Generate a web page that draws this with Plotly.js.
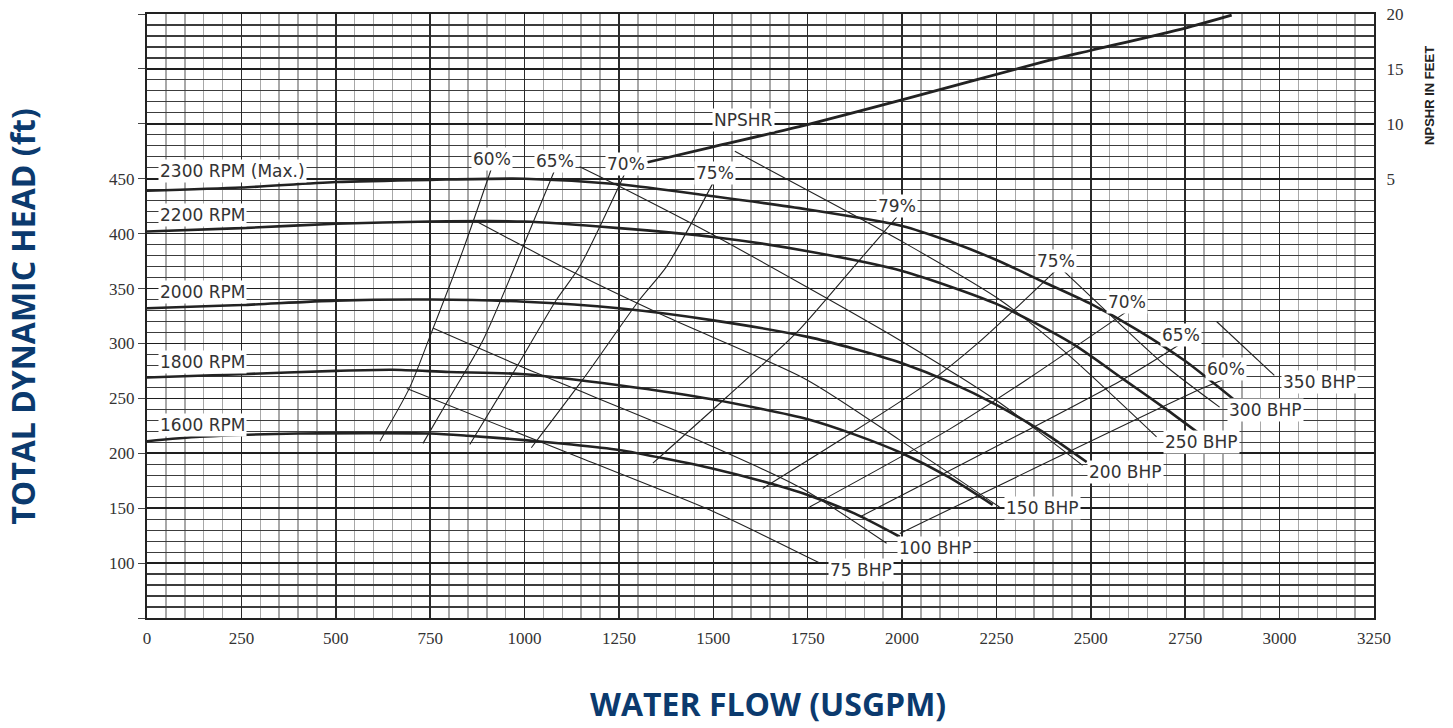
<!DOCTYPE html>
<html>
<head>
<meta charset="utf-8">
<script src="https://cdn.plot.ly/plotly-3.0.1.min.js"></script>
<style>
html,body{margin:0;padding:0;background:#fff;}
#chart{width:1453px;height:728px;}
</style>
</head>
<body>
<div id="chart"></div>
<script>
// ---- Head-capacity curves (flow USGPM, head ft) ----
const rpmNames = ["2300 RPM (Max.)", "2200 RPM", "2000 RPM", "1800 RPM", "1600 RPM"];
const flow2300 = [0, 250, 500, 750, 1000, 1250, 1500, 1750, 2000, 2125, 2250, 2375, 2500, 2625, 2750, 2886];
const head2300 = [439, 442, 447, 449, 450, 445, 434, 422, 407, 393, 376, 356, 336, 312, 284, 247];
const flow2200 = [0, 250, 500, 750, 1000, 1250, 1500, 1750, 2000, 2250, 2450, 2584, 2700, 2783];
const head2200 = [402, 405, 409, 411, 411, 405, 397, 384, 366, 336, 300, 268, 240, 219];
const flow2000 = [0, 250, 500, 750, 1000, 1250, 1500, 1750, 1875, 2000, 2125, 2250, 2375, 2489];
const head2000 = [332, 335, 339, 340, 338, 332, 321, 306, 295, 282, 265, 244, 219, 192];
const flow1800 = [0, 250, 500, 650, 800, 1000, 1250, 1500, 1750, 1875, 2000, 2125, 2240];
const head1800 = [269, 272, 275, 276, 274, 272, 262, 249, 231, 217, 200, 178, 153];
const flow1600 = [0, 140, 400, 750, 850, 1000, 1125, 1250, 1375, 1500, 1625, 1750, 1875, 1994];
const head1600 = [211, 215, 218, 218, 216, 212, 208, 203, 195, 186, 175, 162, 145, 124];

// ---- Efficiency lines ----
const effNames = ["60%", "65%", "70%", "75%", "79%", "75%", "70%", "65%", "60%"];
const effFlow60 = [617, 696, 749, 837, 913];
const effHead60 = [211, 260, 306, 385, 460];
const effFlow65 = [731, 802, 890, 996, 1080];
const effHead65 = [209, 251, 303, 388, 458];
const effFlow70 = [855, 980, 1085, 1146, 1266];
const effHead70 = [208, 279, 340, 370, 455];
const effFlow75 = [1018, 1154, 1305, 1376, 1499];
const effHead75 = [205, 267, 340, 370, 446];
const effFlow79 = [1340, 1535, 1721, 1880, 1986];
const effHead79 = [191, 251, 310, 373, 415];
const effFlow75r = [1631, 1850, 2073, 2200, 2409];
const effHead75r = [168, 215, 265, 300, 367];
const effFlow70r = [1755, 2126, 2330, 2595];
const effHead70r = [151, 222, 267, 329];
const effFlow65r = [1888, 2584, 2735];
const effHead65r = [142, 267, 299];
const effFlow60r = [1994, 2788, 2859];
const effHead60r = [127, 258, 268];

// ---- Brake horsepower lines ----
const bhpNames = ["75 BHP", "100 BHP", "150 BHP", "200 BHP", "250 BHP", "300 BHP", "350 BHP"];
const bhpFlow75 = [688, 1154, 1500, 1782];
const bhpHead75 = [259, 195, 147, 100];
const bhpFlow100 = [757, 1032, 1419, 1729, 1959];
const bhpHead100 = [314, 273, 218, 169, 118];
const bhpFlow150 = [873, 1128, 1377, 1747, 1994, 2258];
const bhpHead150 = [411, 365, 324, 267, 212, 151];
const bhpFlow200 = [1146, 1252, 1499, 1994, 2250, 2478];
const bhpHead200 = [461, 443, 399, 303, 248, 189];
const bhpFlow250 = [1557, 1888, 1994, 2258, 2436, 2674];
const bhpHead250 = [475, 414, 394, 340, 291, 215];
const bhpFlow300 = [2425, 2542, 2700, 2841];
const bhpHead300 = [367, 329, 279, 242];
const bhpFlow350 = [2833, 2986];
const bhpHead350 = [320, 271];

// ---- NPSHR curve (flow, ft) ----
const npshFlow = [1326, 1499, 1747, 2002, 2391, 2502, 2748, 2873];
const npshFeet = [6.5, 7.9, 9.9, 12.2, 15.8, 16.7, 18.7, 19.9];

// ---- Axis ticks ----
const flowTicks = [0, 250, 500, 750, 1000, 1250, 1500, 1750, 2000, 2250, 2500, 2750, 3000, 3250];
const headTickVals = [50, 100, 150, 200, 250, 300, 350, 400, 450, 500, 550, 600];
const headTickText = ["", "100", "150", "200", "250", "300", "350", "400", "450", "", "", ""];
const npshTicks = [5, 10, 15, 20];

// ---- Label anchor positions (data coords) ----
const rpmLabelFlow = [30, 30, 30, 30, 30];
const rpmLabelHead = [457, 417, 347, 283, 226];
const effLabelFlow = [913, 1080, 1268, 1504, 1986, 2409, 2595, 2738, 2859];
const effLabelHead = [468, 466, 463, 455, 425, 375, 338, 308, 277];
const bhpLabelFlow = [1890, 2089, 2372, 2593, 2794, 2962, 3106];
const bhpLabelHead = [94, 114, 150, 183, 210, 239, 265];
const npshLabelFlow = 1579;
const npshLabelHead = 503.5;

const ink = '#222';
function line(x, y, w, axis) {
  return {x: x, y: y, type: 'scatter', mode: 'lines', yaxis: axis || 'y',
    line: {color: ink, width: w, shape: 'spline', smoothing: 0.7},
    hoverinfo: 'skip', showlegend: false};
}

const traces = [
  line(effFlow60, effHead60, 1.1), line(effFlow65, effHead65, 1.1), line(effFlow70, effHead70, 1.1),
  line(effFlow75, effHead75, 1.1), line(effFlow79, effHead79, 1.1), line(effFlow75r, effHead75r, 1.1),
  line(effFlow70r, effHead70r, 1.1), line(effFlow65r, effHead65r, 1.1), line(effFlow60r, effHead60r, 1.1),
  line(bhpFlow75, bhpHead75, 1.1), line(bhpFlow100, bhpHead100, 1.1), line(bhpFlow150, bhpHead150, 1.1),
  line(bhpFlow200, bhpHead200, 1.1), line(bhpFlow250, bhpHead250, 1.1), line(bhpFlow300, bhpHead300, 1.1),
  line(bhpFlow350, bhpHead350, 1.1),
  line(flow2300, head2300, 2.6), line(flow2200, head2200, 2.6), line(flow2000, head2000, 2.6),
  line(flow1800, head1800, 2.6), line(flow1600, head1600, 2.6),
  line(npshFlow, npshFeet, 2.8, 'y2')
];

const labelFont = {family: 'DejaVu Sans, Arial, sans-serif', size: 17, color: '#333'};
const annotations = [];
function lab(text, x, y, anchor) {
  annotations.push({text: text, x: x, y: y, xref: 'x', yref: 'y', showarrow: false,
    xanchor: anchor || 'center', yanchor: 'middle', bgcolor: '#ffffff', borderpad: 1, font: labelFont});
}
rpmNames.forEach((t, i) => lab(t, rpmLabelFlow[i], rpmLabelHead[i], 'left'));
effNames.forEach((t, i) => lab(t, effLabelFlow[i], effLabelHead[i]));
bhpNames.forEach((t, i) => lab(t, bhpLabelFlow[i], bhpLabelHead[i]));
lab('NPSHR', npshLabelFlow, npshLabelHead);

const titleColor = '#0b3a6e';
annotations.push({text: '<b>TOTAL DYNAMIC HEAD (ft)</b>', xref: 'paper', yref: 'paper',
  x: -0.102, y: 0.50, textangle: -90, showarrow: false, xanchor: 'center', yanchor: 'middle',
  font: {family: 'Open Sans, sans-serif', size: 32, color: titleColor}});
annotations.push({text: '<b>WATER FLOW (USGPM)</b>', xref: 'paper', yref: 'paper',
  x: 0.506, y: -0.142, showarrow: false, xanchor: 'center', yanchor: 'middle',
  font: {family: 'Open Sans, sans-serif', size: 32, color: titleColor}});
annotations.push({text: '<b>NPSHR IN FEET</b>', xref: 'paper', yref: 'paper',
  x: 1.0456, y: 0.866, textangle: -90, showarrow: false, xanchor: 'center', yanchor: 'middle',
  font: {family: 'Liberation Sans, Arial, sans-serif', size: 13, color: '#222'}});

const tickFont = {family: 'Liberation Serif, Times New Roman, serif', size: 17, color: '#333'};

const layout = {
  width: 1453, height: 728,
  margin: {l: 147, r: 79, t: 14, b: 110, pad: 0},
  paper_bgcolor: '#fff', plot_bgcolor: '#fff',
  showlegend: false,
  xaxis: {
    range: [0, 3250], tickmode: 'array', tickvals: flowTicks,
    ticks: 'outside', ticklen: 4, tickcolor: 'rgba(0,0,0,0)',
    tickfont: tickFont, showgrid: true, gridcolor: '#2a2a2a', gridwidth: 1.6,
    showline: true, linecolor: '#222', linewidth: 2, mirror: true, zeroline: false,
    minor: {tickmode: 'linear', tick0: 0, dtick: 50, showgrid: true, gridcolor: '#a8a8a8', gridwidth: 1.5, ticks: ''},
    fixedrange: true
  },
  yaxis: {
    range: [50, 600], tickmode: 'array', tickvals: headTickVals, ticktext: headTickText,
    ticks: 'outside', ticklen: 7, tickcolor: '#444',
    tickfont: tickFont, showgrid: true, gridcolor: '#1e1e1e', gridwidth: 1.6,
    showline: true, linecolor: '#222', linewidth: 2, mirror: true, zeroline: false,
    minor: {tickmode: 'linear', tick0: 50, dtick: 10, showgrid: true, gridcolor: '#3c3c3c', gridwidth: 1.2, ticks: ''},
    fixedrange: true
  },
  yaxis2: {
    overlaying: 'y', side: 'right', range: [-35, 20], tickmode: 'array', tickvals: npshTicks,
    ticks: 'outside', ticklen: 8, tickcolor: 'rgba(0,0,0,0)',
    tickfont: tickFont, showgrid: false, zeroline: false, showline: false, fixedrange: true
  },
  annotations: annotations
};

Plotly.newPlot('chart', traces, layout, {staticPlot: true, displayModeBar: false});
</script>
</body>
</html>
